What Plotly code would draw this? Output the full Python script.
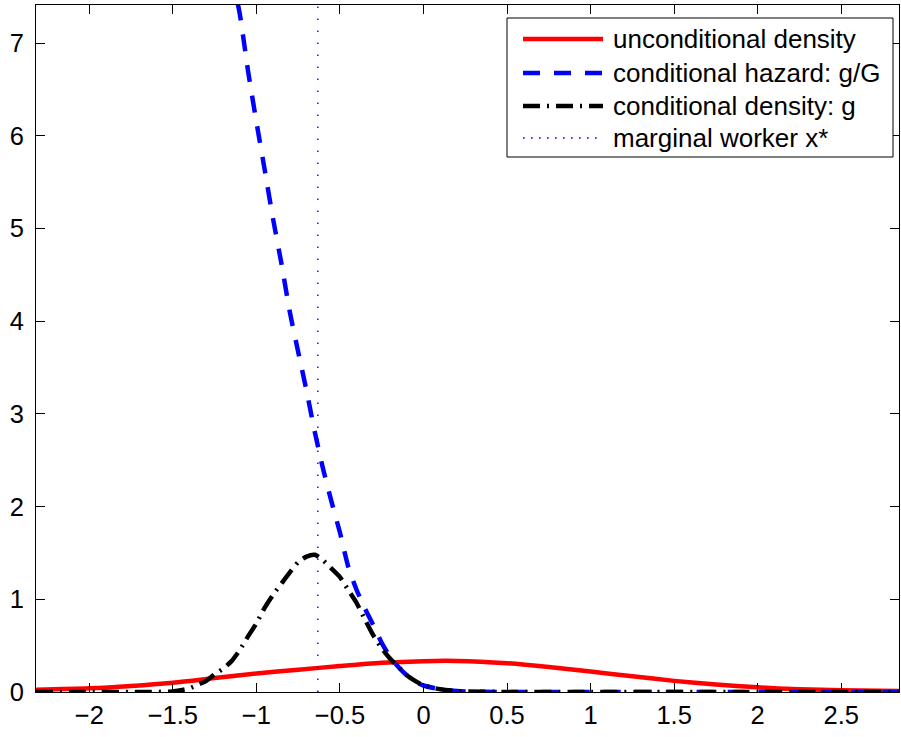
import plotly.graph_objects as go

# ---------------- data ----------------
x_uncond = [-2.32, -2.0, -1.75, -1.5, -1.25, -1.0, -0.75, -0.5, -0.25, 0.0, 0.2,
            0.5, 0.75, 1.0, 1.25, 1.5, 1.75, 2.0, 2.25, 2.5, 2.85]
y_uncond = [0.025, 0.04, 0.065, 0.10, 0.15, 0.20, 0.24, 0.28, 0.315, 0.333, 0.335,
            0.31, 0.27, 0.22, 0.17, 0.12, 0.08, 0.05, 0.03, 0.02, 0.01]

x_hazard = [-1.15, -1.10, -1.05, -1.00, -0.95, -0.90, -0.85, -0.80, -0.75, -0.70,
            -0.65, -0.60, -0.55, -0.50, -0.45, -0.40, -0.35, -0.30, -0.25, -0.20,
            -0.15, -0.10, -0.05, 0.00, 0.10, 0.20, 0.50, 1.0, 1.5, 2.0, 2.5, 2.85]
y_hazard = [7.75, 7.32, 6.70, 6.15, 5.63, 5.10, 4.62, 4.10, 3.67, 3.25,
            2.80, 2.40, 2.05, 1.72, 1.35, 1.10, 0.90, 0.72, 0.53, 0.38,
            0.27, 0.18, 0.11, 0.07, 0.03, 0.01, 0.0, 0.0, 0.0, 0.0, 0.0, 0.0]

x_cond = [-2.32, -2.0, -1.75, -1.5, -1.45, -1.40, -1.35, -1.30, -1.25, -1.20, -1.15,
          -1.10, -1.05, -1.00, -0.95, -0.90, -0.85, -0.80, -0.75, -0.70, -0.65,
          -0.60, -0.55, -0.50, -0.45, -0.40, -0.35, -0.30, -0.25, -0.20, -0.15,
          -0.10, -0.05, 0.00, 0.10, 0.20, 0.50, 1.0, 1.5, 2.0, 2.5, 2.85]
y_cond = [0.0, 0.0, 0.0, 0.005, 0.02, 0.04, 0.08, 0.12, 0.19, 0.25, 0.33,
          0.45, 0.60, 0.74, 0.91, 1.05, 1.17, 1.29, 1.40, 1.46, 1.48,
          1.42, 1.33, 1.24, 1.10, 0.96, 0.78, 0.61, 0.47, 0.36, 0.27,
          0.18, 0.12, 0.07, 0.03, 0.01, 0.0, 0.0, 0.0, 0.0, 0.0, 0.0]

x_star = [-0.632, -0.632]
y_star = [0.0, 7.41]

series_names = ["unconditional density", "conditional hazard: g/G",
                "conditional density: g", "marginal worker x*"]

x_tick_vals = [-2, -1.5, -1, -0.5, 0, 0.5, 1, 1.5, 2, 2.5]
x_tick_text = ["\u22122", "\u22121.5", "\u22121", "\u22120.5", "0", "0.5", "1", "1.5", "2", "2.5"]
y_tick_vals = [0, 1, 2, 3, 4, 5, 6, 7]
y_tick_text = ["0", "1", "2", "3", "4", "5", "6", "7"]

x_range = [-2.319, 2.846]
y_range = [0, 7.41]

# ---------------- styles ----------------
FONT = "Liberation Sans, Arial, Helvetica, sans-serif"
styles = [
    dict(color="#ff0000", width=4.5),
    dict(color="#0000ff", width=4.5, dash="17px,14px"),
    dict(color="#000000", width=4.5, dash="17px,7px,2px,7px"),
    dict(color="#0000ff", width=1.4, dash="1.6px,10.4px"),
]

fig = go.Figure()
fig.add_trace(go.Scatter(x=x_uncond, y=y_uncond, mode="lines", name=series_names[0],
                         line=dict(**styles[0], shape="spline", smoothing=0.8)))
fig.add_trace(go.Scatter(x=x_hazard, y=y_hazard, mode="lines", name=series_names[1],
                         line=dict(**styles[1], shape="spline", smoothing=0.6)))
fig.add_trace(go.Scatter(x=x_cond, y=y_cond, mode="lines", name=series_names[2],
                         line=dict(**styles[2], shape="spline", smoothing=0.6)))
fig.add_trace(go.Scatter(x=x_star, y=y_star, mode="lines", name=series_names[3],
                         line=styles[3]))

# ---------------- legend box (MATLAB style, drawn in paper coordinates) ----------------
L, R, T, B = 36, 899, 5, 692          # plot area in pixels
def px(xp):
    return (xp - L) / (R - L)
def py(yp):
    return (B - yp) / (B - T)

shapes = [dict(type="rect", xref="paper", yref="paper",
               x0=px(507), x1=px(893), y0=py(157), y1=py(18),
               line=dict(color="black", width=1), fillcolor="white", layer="above")]
annotations = []
row_y = [39, 73, 106, 138]
leg_styles = [styles[0], styles[1], styles[2], dict(color="#0000ff", width=1.4, dash="1.6px,6.4px")]
for name, st, ry in zip(series_names, leg_styles, row_y):
    shapes.append(dict(type="line", xref="paper", yref="paper",
                       x0=px(523), x1=px(603), y0=py(ry), y1=py(ry),
                       line=st, layer="above"))
    annotations.append(dict(xref="paper", yref="paper", x=px(611), y=py(ry),
                            xanchor="left", yanchor="middle", text=name, showarrow=False,
                            font=dict(family=FONT, size=26, color="black")))

axis_common = dict(showgrid=False, zeroline=False, showline=True, linecolor="black",
                   linewidth=1, mirror="allticks", ticks="inside", ticklen=9,
                   tickwidth=1, tickcolor="black",
                   tickfont=dict(family=FONT, size=25.5, color="black"))

fig.update_layout(
    width=901, height=737, autosize=False,
    margin=dict(l=L, r=901 - R, t=T, b=737 - B),
    paper_bgcolor="white", plot_bgcolor="white",
    font=dict(family=FONT, size=25, color="black"),
    xaxis=dict(range=x_range, tickmode="array", tickvals=x_tick_vals,
               ticktext=x_tick_text, ticklabelstandoff=0, **axis_common),
    yaxis=dict(range=y_range, tickmode="array", tickvals=y_tick_vals,
               ticktext=y_tick_text, ticklabelstandoff=6, **axis_common),
    showlegend=False,
    shapes=shapes,
    annotations=annotations,
)

fig.write_html("out.html", config={"displayModeBar": False},
               post_script="document.body.style.margin='0px';")
